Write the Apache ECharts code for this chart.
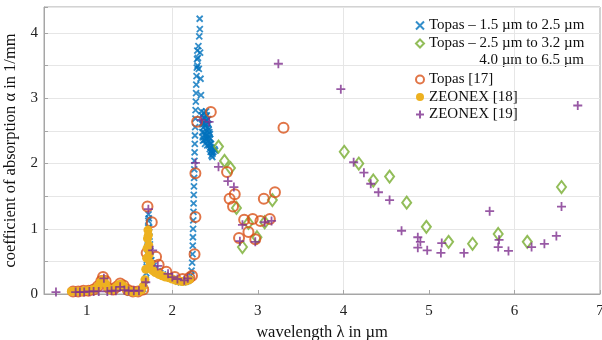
<!DOCTYPE html>
<html>
<head>
<meta charset="utf-8">
<script src="https://cdn.jsdelivr.net/npm/echarts@6/dist/echarts.min.js"></script>
<style>
  html, body { margin: 0; padding: 0; background: #fff; }
  #chart { width: 602px; height: 340px; }
</style>
</head>
<body>
<div id="chart"></div>
<script>
// [wavelength in µm, alpha in 1/mm]
const topasNir = [
  [1.50, 0.02], [1.53, 0.02], [1.56, 0.03], [1.59, 0.03], [1.62, 0.04], [1.64, 0.05], [1.66, 0.08],
  [1.68, 0.14], [1.69, 0.22], [1.695, 0.32], [1.70, 0.42], [1.703, 0.52], [1.706, 0.62], [1.709, 0.72],
  [1.712, 0.82], [1.715, 0.92], [1.718, 1.02], [1.72, 1.12], [1.722, 1.22], [1.726, 1.16], [1.73, 1.02],
  [1.734, 0.88], [1.738, 0.76], [1.742, 0.66], [1.748, 0.58], [1.755, 0.52], [1.765, 0.47], [1.78, 0.43],
  [1.80, 0.39], [1.83, 0.35], [1.86, 0.32], [1.89, 0.30], [1.92, 0.28], [1.95, 0.26], [1.98, 0.24],
  [2.01, 0.22], [2.04, 0.21], [2.07, 0.19], [2.10, 0.18], [2.13, 0.18], [2.16, 0.19], [2.18, 0.20],
  [2.20, 0.23], [2.215, 0.28], [2.225, 0.36], [2.232, 0.48], [2.236, 0.61], [2.239, 0.74], [2.241, 0.87],
  [2.243, 1.00], [2.245, 1.13], [2.247, 1.26], [2.249, 1.39], [2.251, 1.52], [2.253, 1.65], [2.255, 1.78],
  [2.257, 1.91], [2.259, 2.04], [2.261, 2.17], [2.263, 2.30], [2.265, 2.43], [2.267, 2.56], [2.27, 2.69],
  [2.272, 2.82], [2.275, 2.95], [2.278, 3.08], [2.28, 3.21], [2.283, 3.34], [2.286, 3.47], [2.289, 3.60],
  [2.292, 3.73], [2.295, 3.50], [2.30, 3.62], [2.305, 3.80], [2.31, 3.45], [2.315, 3.95], [2.32, 4.22],
  [2.322, 4.06], [2.325, 3.70], [2.33, 3.30], [2.335, 3.05], [2.34, 2.80], [2.345, 2.62], [2.35, 2.48],
  [2.355, 2.40], [2.36, 2.55], [2.365, 2.70], [2.37, 2.78], [2.375, 2.62], [2.38, 2.45], [2.385, 2.58],
  [2.39, 2.72], [2.395, 2.80], [2.40, 2.66], [2.405, 2.50], [2.41, 2.38], [2.415, 2.55], [2.42, 2.68],
  [2.425, 2.52], [2.43, 2.40], [2.435, 2.32], [2.44, 2.45], [2.445, 2.30], [2.45, 2.25], [2.455, 2.20],
  [2.46, 2.18], [2.47, 2.15], [2.48, 2.18], [2.49, 2.22], [2.50, 2.20],
  [2.345, 2.74], [2.352, 2.60], [2.358, 2.35], [2.363, 2.62], [2.368, 2.48], [2.373, 2.36], [2.378, 2.70],
  [2.383, 2.30], [2.388, 2.42], [2.393, 2.60], [2.398, 2.38], [2.403, 2.74], [2.408, 2.28], [2.413, 2.44],
  [2.418, 2.34], [2.423, 2.60], [2.428, 2.28], [2.433, 2.48], [2.438, 2.22], [2.443, 2.38], [2.448, 2.18],
  [2.453, 2.30], [2.458, 2.12], [2.463, 2.24], [2.468, 2.10]
];
const topasMir = [
  [2.54, 2.26], [2.61, 2.04], [2.68, 1.93], [2.75, 1.32], [2.89, 1.09], [2.82, 0.72], [2.99, 0.87],
  [3.08, 1.10], [3.17, 1.44], [4.01, 2.18], [4.18, 2.00], [4.35, 1.74], [4.54, 1.80], [4.74, 1.40],
  [4.97, 1.03], [5.23, 0.80], [5.51, 0.77], [5.81, 0.92], [6.15, 0.80], [6.55, 1.64]
];
const topasRef17 = [
  [0.84, 0.04], [0.90, 0.04], [0.96, 0.05], [1.02, 0.05], [1.08, 0.07], [1.13, 0.12], [1.17, 0.20],
  [1.19, 0.26], [1.22, 0.20], [1.26, 0.09], [1.31, 0.07], [1.35, 0.11], [1.39, 0.16], [1.43, 0.13],
  [1.48, 0.06], [1.54, 0.04], [1.60, 0.04], [1.66, 0.07], [1.71, 1.34], [1.76, 1.10], [1.70, 0.63],
  [1.81, 0.57], [1.84, 0.45], [1.93, 0.34], [2.03, 0.26], [2.12, 0.23], [2.20, 0.25], [2.23, 0.28],
  [2.26, 0.61], [2.27, 1.18], [2.27, 1.85], [2.29, 2.64], [2.45, 2.79], [2.64, 1.87], [2.67, 1.46],
  [2.73, 1.53], [2.71, 1.34], [2.84, 1.14], [2.94, 1.15], [3.03, 1.12], [3.14, 1.15], [2.89, 0.95],
  [2.78, 0.86], [2.97, 0.84], [3.07, 1.46], [3.20, 1.56], [3.30, 2.55]
];
const zeonexRef18 = [
  [0.82, 0.04], [0.86, 0.04], [0.90, 0.04], [0.94, 0.04], [0.98, 0.05], [1.02, 0.05], [1.06, 0.06],
  [1.10, 0.08], [1.13, 0.12], [1.16, 0.18], [1.19, 0.22], [1.22, 0.16], [1.25, 0.08], [1.28, 0.06],
  [1.31, 0.07], [1.34, 0.10], [1.37, 0.14], [1.40, 0.15], [1.43, 0.12], [1.46, 0.07], [1.49, 0.05],
  [1.52, 0.04], [1.55, 0.03], [1.58, 0.03], [1.61, 0.04], [1.64, 0.06], [1.66, 0.12], [1.68, 0.22],
  [1.69, 0.38], [1.70, 0.55], [1.705, 0.70], [1.71, 0.85], [1.715, 0.98], [1.72, 0.90], [1.725, 0.75],
  [1.73, 0.60], [1.74, 0.48], [1.75, 0.40], [1.77, 0.36], [1.80, 0.33], [1.84, 0.30], [1.88, 0.28],
  [1.92, 0.26], [1.96, 0.25], [2.00, 0.23], [2.04, 0.21], [2.08, 0.20], [2.12, 0.19], [2.16, 0.20],
  [2.20, 0.22]
];
const zeonexRef19 = [
  [0.64, 0.03], [0.87, 0.03], [0.92, 0.03], [0.97, 0.03], [1.03, 0.04], [1.08, 0.04], [1.14, 0.04],
  [1.20, 0.24], [1.24, 0.04], [1.29, 0.05], [1.34, 0.05], [1.39, 0.11], [1.44, 0.06], [1.49, 0.05],
  [1.55, 0.05], [1.61, 0.05], [1.69, 0.18], [1.72, 1.30], [1.77, 0.67], [1.83, 0.43], [1.95, 0.31],
  [2.00, 0.26], [2.06, 0.23], [2.14, 0.21], [2.18, 0.24], [2.27, 2.01], [2.34, 2.67], [2.43, 2.64],
  [2.54, 1.95], [2.65, 1.73], [2.72, 1.64], [2.82, 1.06], [2.79, 0.81], [2.97, 0.80], [3.08, 1.10],
  [3.16, 1.12], [3.24, 3.53], [3.97, 3.14], [4.12, 2.02], [4.24, 1.86], [4.32, 1.69], [4.41, 1.56],
  [4.54, 1.44], [4.68, 0.97], [4.87, 0.87], [4.90, 0.80], [4.87, 0.71], [4.98, 0.67], [5.14, 0.63],
  [5.15, 0.78], [5.41, 0.63], [5.71, 1.27], [5.82, 0.83], [5.81, 0.72], [5.93, 0.66], [6.20, 0.72],
  [6.35, 0.77], [6.49, 0.89], [6.55, 1.34], [6.74, 2.89]
];

const seriesNames = [
  "Topas – 1.5 µm to 2.5 µm",
  "Topas – 2.5 µm to 3.2 µm",
  "Topas [17]",
  "ZEONEX [18]",
  "ZEONEX [19]"
];
const secondRangeLabel = "4.0 µm to 6.5 µm";
const xTicks = [1, 2, 3, 4, 5, 6, 7];
const yTicks = [0, 1, 2, 3, 4];

const FONT = "Liberation Serif, Times New Roman, serif";
const crossX = "path://M0,0L10,10M10,0L0,10";
const crossPlus = "path://M5,0L5,10M0,5L10,5";
const none = "rgba(0,0,0,0)";

let chart = echarts.init(document.getElementById("chart"));

let option = {
  animation: false,
  grid: {
    left: 44,
    right: 2,
    top: 7,
    bottom: 46,
    outerBoundsMode: "none",
    show: true,
    borderColor: "#a6a6a6",
    borderWidth: 1,
  },
  legend: [
    {
      data: seriesNames.slice(0, 2),
      orient: "vertical",
      left: 410,
      top: 13,
      itemWidth: 8,
      itemHeight: 8,
      itemGap: 3,
      textStyle: { fontFamily: FONT, fontSize: 15, color: "#111" },
    },
    {
      data: seriesNames.slice(2),
      orient: "vertical",
      left: 410,
      top: 67,
      itemWidth: 8,
      itemHeight: 8,
      itemGap: 2.5,
      textStyle: { fontFamily: FONT, fontSize: 15, color: "#111" },
    },
  ],
  graphic: [
    {
      type: "text",
      right: 18,
      top: 53,
      style: { text: secondRangeLabel, font: "15px " + FONT, fill: "#111" },
    },
  ],
  xAxis: {
    type: "value",
    min: 0.5,
    max: 7,
    interval: 0.5,
    name: "wavelength λ in µm",
    nameLocation: "middle",
    nameGap: 21,
    nameTextStyle: { fontFamily: FONT, fontSize: 16.5, color: "#111" },
    axisLine: { onZero: false, lineStyle: { color: "#a6a6a6" } },
    axisTick: { inside: true, length: 4, customValues: xTicks, lineStyle: { color: "#a6a6a6" } },
    axisLabel: {
      customValues: xTicks,
      margin: 10,
      fontFamily: FONT,
      fontSize: 15,
      color: "#222",
    },
    splitLine: { show: true, lineStyle: { color: [none, "#e6e6e6"], width: 1 } },
  },
  yAxis: {
    type: "value",
    min: 0,
    max: 4.4,
    interval: 0.5,
    name: "coefficient of absorption α in 1/mm",
    nameLocation: "middle",
    nameGap: 21,
    nameTextStyle: { fontFamily: FONT, fontSize: 16.5, color: "#111" },
    axisLine: { show: true, lineStyle: { color: "#a6a6a6" } },
    axisTick: { show: true, inside: true, length: 4, lineStyle: { color: "#a6a6a6" } },
    axisLabel: {
      customValues: yTicks,
      margin: 6,
      fontFamily: FONT,
      fontSize: 15,
      color: "#222",
    },
    splitLine: { show: true, lineStyle: { color: "#e6e6e6", width: 1 } },
  },
  series: [
    {
      name: seriesNames[0],
      type: "scatter",
      data: topasNir,
      symbol: crossX,
      symbolSize: 6,
      itemStyle: { color: none, borderColor: "#0072BD", borderWidth: 1.8 },
    },
    {
      name: seriesNames[1],
      type: "scatter",
      data: topasMir,
      symbol: "diamond",
      symbolSize: [9, 12],
      itemStyle: { color: none, borderColor: "#77AC30", borderWidth: 2 },
    },
    {
      name: seriesNames[2],
      type: "scatter",
      data: topasRef17,
      symbol: "circle",
      symbolSize: 10,
      itemStyle: { color: none, borderColor: "#D95319", borderWidth: 2 },
    },
    {
      name: seriesNames[3],
      type: "scatter",
      data: zeonexRef18,
      symbol: "circle",
      symbolSize: 9,
      itemStyle: { color: "#EDB120", opacity: 1 },
    },
    {
      name: seriesNames[4],
      type: "scatter",
      data: zeonexRef19,
      symbol: crossPlus,
      symbolSize: 9,
      itemStyle: { color: none, borderColor: "#7E2F8E", borderWidth: 1.8 },
    },
  ],
};
chart.setOption(option);
</script>
</body>
</html>
